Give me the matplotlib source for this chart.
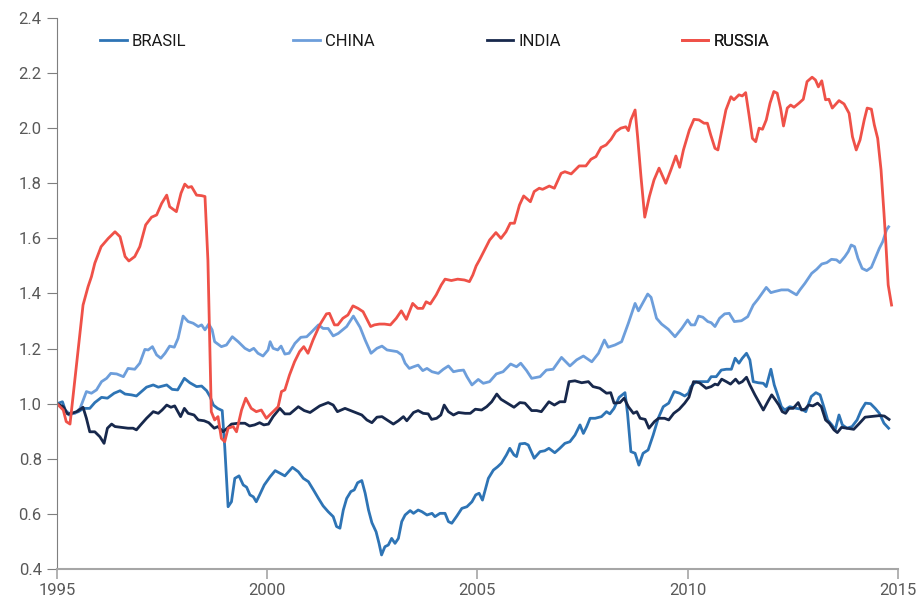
import matplotlib
matplotlib.use("Agg")
import matplotlib.pyplot as plt

# values (decimal year, index level, 1995 = 1.0)
brasil_t = [1995.0, 1995.13, 1995.21, 1995.29, 1995.39, 1995.51, 1995.63, 1995.78, 1995.90,
            1996.06, 1996.20, 1996.36, 1996.50, 1996.62, 1996.77, 1996.89, 1997.01, 1997.13,
            1997.29, 1997.41, 1997.61, 1997.74, 1997.87, 1998.03, 1998.16, 1998.32, 1998.44,
            1998.56, 1998.64, 1998.72, 1998.82, 1998.93, 1998.99, 1999.07, 1999.15, 1999.23,
            1999.33, 1999.43, 1999.51, 1999.59, 1999.67, 1999.74, 1999.82, 1999.93, 2000.07,
            2000.19, 2000.31, 2000.42, 2000.60, 2000.74, 2000.86, 2000.98, 2001.10, 2001.22,
            2001.33, 2001.45, 2001.57, 2001.65, 2001.73, 2001.81, 2001.89, 2001.99, 2002.07,
            2002.15, 2002.25, 2002.33, 2002.41, 2002.49, 2002.59, 2002.66, 2002.72, 2002.80,
            2002.88, 2002.96, 2003.04, 2003.12, 2003.20, 2003.28, 2003.40, 2003.48, 2003.59,
            2003.68, 2003.80, 2003.92, 2003.99, 2004.11, 2004.23, 2004.31, 2004.39, 2004.51,
            2004.63, 2004.75, 2004.87, 2004.96, 2005.04, 2005.12, 2005.26, 2005.38, 2005.48,
            2005.57, 2005.69, 2005.77, 2005.87, 2005.93, 2006.01, 2006.13, 2006.21, 2006.35,
            2006.49, 2006.60, 2006.70, 2006.84, 2006.96, 2007.08, 2007.20, 2007.32, 2007.44,
            2007.52, 2007.60, 2007.68, 2007.80, 2007.95, 2008.07, 2008.15, 2008.25, 2008.37,
            2008.51, 2008.57, 2008.65, 2008.75, 2008.84, 2008.94, 2009.06, 2009.18, 2009.30,
            2009.42, 2009.55, 2009.68, 2009.81, 2009.93, 2010.02, 2010.08, 2010.20, 2010.36,
            2010.48, 2010.56, 2010.68, 2010.80, 2010.92, 2011.04, 2011.13, 2011.22, 2011.30,
            2011.40, 2011.48, 2011.56, 2011.68, 2011.80, 2011.87, 2011.98, 2012.06, 2012.14,
            2012.23, 2012.31, 2012.43, 2012.59, 2012.71, 2012.81, 2012.94, 2013.05, 2013.15,
            2013.25, 2013.33, 2013.43, 2013.51, 2013.60, 2013.68, 2013.79, 2013.91, 2014.03,
            2014.13, 2014.23, 2014.35, 2014.46, 2014.56, 2014.67, 2014.78]
brasil_v = [1.0, 1.007, 0.971, 0.959, 0.965, 0.971, 0.983, 0.983, 1.004,
            1.023, 1.02, 1.038, 1.047, 1.035, 1.032, 1.028, 1.044, 1.06,
            1.068, 1.06, 1.068, 1.052, 1.05, 1.092, 1.076, 1.062, 1.064,
            1.047, 1.026, 0.995, 0.983, 0.975, 0.844, 0.626, 0.644, 0.729,
            0.738, 0.705, 0.697, 0.669, 0.662, 0.644, 0.669, 0.705, 0.735,
            0.757, 0.747, 0.738, 0.769, 0.753, 0.729, 0.717, 0.687, 0.656,
            0.629, 0.608, 0.590, 0.554, 0.548, 0.614, 0.656, 0.681, 0.687,
            0.713, 0.721, 0.675, 0.614, 0.568, 0.535, 0.493, 0.451, 0.481,
            0.487, 0.511, 0.493, 0.511, 0.572, 0.596, 0.612, 0.602, 0.614,
            0.608, 0.596, 0.602, 0.590, 0.602, 0.602, 0.572, 0.566, 0.592,
            0.62, 0.626, 0.644, 0.669, 0.675, 0.650, 0.729, 0.759, 0.771,
            0.784, 0.814, 0.838, 0.814, 0.808, 0.854, 0.856, 0.85, 0.802,
            0.826, 0.829, 0.838, 0.822, 0.838, 0.856, 0.862, 0.886, 0.923,
            0.892, 0.917, 0.947, 0.947, 0.953, 0.971, 0.963, 0.983, 1.023,
            1.04, 0.965, 0.826, 0.82, 0.777, 0.82, 0.832, 0.886, 0.947,
            0.989, 1.002, 1.044, 1.038, 1.028, 1.038, 1.062, 1.08, 1.08,
            1.08, 1.098, 1.098, 1.122, 1.125, 1.125, 1.165, 1.147, 1.165,
            1.183, 1.159, 1.08, 1.076, 1.074, 1.062, 1.125, 1.068, 1.032,
            0.989, 0.977, 0.989, 0.983, 0.980, 0.971, 1.026, 1.04, 1.032,
            0.983, 0.941, 0.923, 0.905, 0.959, 0.923, 0.911, 0.917, 0.941,
            0.977, 1.002, 1.0, 0.983, 0.965, 0.929, 0.911]

china_t = [1995.0, 1995.19, 1995.31, 1995.43, 1995.55, 1995.70, 1995.82, 1995.94, 1996.06,
           1996.18, 1996.28, 1996.42, 1996.58, 1996.69, 1996.85, 1996.97, 1997.09, 1997.17,
           1997.27, 1997.37, 1997.47, 1997.57, 1997.68, 1997.79, 1997.88, 1998.00, 1998.12,
           1998.24, 1998.36, 1998.44, 1998.52, 1998.61, 1998.69, 1998.75, 1998.91, 1999.03,
           1999.17, 1999.31, 1999.47, 1999.58, 1999.68, 1999.78, 1999.90, 2000.02, 2000.07,
           2000.14, 2000.25, 2000.33, 2000.42, 2000.52, 2000.66, 2000.80, 2000.94, 2001.06,
           2001.22, 2001.33, 2001.45, 2001.57, 2001.69, 2001.89, 2002.05, 2002.21, 2002.33,
           2002.47, 2002.61, 2002.73, 2002.85, 2002.97, 2003.09, 2003.20, 2003.28, 2003.38,
           2003.48, 2003.59, 2003.70, 2003.80, 2003.92, 2004.07, 2004.19, 2004.31, 2004.43,
           2004.55, 2004.67, 2004.75, 2004.87, 2005.02, 2005.14, 2005.29, 2005.45, 2005.61,
           2005.79, 2005.93, 2006.03, 2006.17, 2006.29, 2006.49, 2006.64, 2006.80, 2007.00,
           2007.20, 2007.36, 2007.52, 2007.72, 2007.88, 2008.02, 2008.11, 2008.27, 2008.43,
           2008.59, 2008.75, 2008.83, 2008.95, 2009.05, 2009.13, 2009.26, 2009.38, 2009.54,
           2009.70, 2009.86, 2010.00, 2010.08, 2010.17, 2010.26, 2010.36, 2010.48, 2010.56,
           2010.65, 2010.76, 2010.88, 2010.99, 2011.11, 2011.28, 2011.43, 2011.56, 2011.67,
           2011.87, 2011.98, 2012.07, 2012.23, 2012.39, 2012.59, 2012.67, 2012.79, 2012.95,
           2013.07, 2013.19, 2013.31, 2013.42, 2013.54, 2013.62, 2013.74, 2013.82, 2013.89,
           2013.97, 2014.05, 2014.15, 2014.26, 2014.37, 2014.46, 2014.56, 2014.64, 2014.73,
           2014.78]
china_v = [1.0, 0.977, 0.963, 0.965, 0.983, 1.044, 1.038, 1.05, 1.08,
           1.092, 1.11, 1.108, 1.098, 1.128, 1.125, 1.147, 1.197, 1.195,
           1.207, 1.177, 1.165, 1.183, 1.209, 1.205, 1.237, 1.318, 1.298,
           1.292, 1.28, 1.286, 1.268, 1.289, 1.268, 1.225, 1.207, 1.213,
           1.243, 1.225, 1.201, 1.192, 1.201, 1.183, 1.173, 1.195, 1.225,
           1.201, 1.195, 1.209, 1.18, 1.183, 1.219, 1.241, 1.243, 1.261,
           1.286, 1.273, 1.273, 1.246, 1.255, 1.28, 1.318, 1.277, 1.231,
           1.183, 1.201, 1.209, 1.195, 1.192, 1.189, 1.177, 1.147, 1.128,
           1.134, 1.14, 1.12, 1.128, 1.116, 1.11, 1.125, 1.137, 1.116,
           1.12, 1.122, 1.098, 1.068, 1.088, 1.074, 1.08, 1.108, 1.116,
           1.144, 1.134, 1.147, 1.12, 1.092, 1.098, 1.122, 1.125, 1.168,
           1.137, 1.159, 1.173, 1.152, 1.183, 1.231, 1.205, 1.213, 1.225,
           1.292, 1.364, 1.337, 1.370, 1.398, 1.386, 1.31, 1.289, 1.270,
           1.243, 1.273, 1.304, 1.286, 1.286, 1.318, 1.314, 1.298, 1.294,
           1.28, 1.31, 1.326, 1.328, 1.298, 1.301, 1.316, 1.358, 1.379,
           1.422, 1.403, 1.407, 1.413, 1.413, 1.395, 1.413, 1.437, 1.473,
           1.488, 1.507, 1.512, 1.524, 1.522, 1.512, 1.534, 1.552, 1.576,
           1.570, 1.528, 1.491, 1.483, 1.495, 1.528, 1.564, 1.588, 1.631,
           1.642]

india_t = [1995.0, 1995.15, 1995.25, 1995.35, 1995.47, 1995.62, 1995.70, 1995.78, 1995.90,
           1996.02, 1996.12, 1996.20, 1996.30, 1996.38, 1996.54, 1996.69, 1996.81, 1996.89,
           1996.99, 1997.13, 1997.29, 1997.41, 1997.50, 1997.61, 1997.71, 1997.80, 1997.94,
           1998.03, 1998.12, 1998.26, 1998.36, 1998.50, 1998.61, 1998.74, 1998.83, 1998.95,
           1999.05, 1999.15, 1999.31, 1999.47, 1999.58, 1999.70, 1999.82, 1999.92, 2000.03,
           2000.14, 2000.30, 2000.42, 2000.54, 2000.74, 2000.88, 2001.02, 2001.25, 2001.45,
           2001.57, 2001.67, 2001.85, 2002.05, 2002.25, 2002.37, 2002.49, 2002.61, 2002.73,
           2002.85, 2003.00, 2003.12, 2003.24, 2003.32, 2003.48, 2003.59, 2003.71, 2003.83,
           2003.91, 2004.03, 2004.13, 2004.21, 2004.31, 2004.43, 2004.55, 2004.71, 2004.83,
           2004.95, 2005.10, 2005.22, 2005.34, 2005.46, 2005.56, 2005.69, 2005.87, 2006.01,
           2006.13, 2006.29, 2006.41, 2006.52, 2006.70, 2006.83, 2006.96, 2007.08, 2007.18,
           2007.32, 2007.48, 2007.64, 2007.75, 2007.91, 2008.07, 2008.17, 2008.25, 2008.39,
           2008.49, 2008.59, 2008.71, 2008.79, 2008.87, 2008.99, 2009.08, 2009.21, 2009.31,
           2009.45, 2009.55, 2009.67, 2009.80, 2009.93, 2010.03, 2010.14, 2010.28, 2010.44,
           2010.56, 2010.65, 2010.72, 2010.81, 2010.92, 2011.02, 2011.14, 2011.22, 2011.30,
           2011.40, 2011.48, 2011.60, 2011.69, 2011.80, 2011.92, 2012.00, 2012.09, 2012.17,
           2012.25, 2012.33, 2012.41, 2012.51, 2012.63, 2012.71, 2012.79, 2012.88, 2012.98,
           2013.09, 2013.18, 2013.28, 2013.37, 2013.48, 2013.56, 2013.66, 2013.79, 2013.95,
           2014.07, 2014.22, 2014.35, 2014.46, 2014.58, 2014.68, 2014.79]
india_v = [1.0, 0.989, 0.963, 0.965, 0.971, 0.987, 0.947, 0.898, 0.898,
           0.880, 0.856, 0.911, 0.926, 0.917, 0.914, 0.911, 0.911, 0.905,
           0.923, 0.947, 0.971, 0.965, 0.977, 0.995, 0.987, 0.992, 0.953,
           0.983, 0.965, 0.959, 0.941, 0.938, 0.931, 0.911, 0.917, 0.898,
           0.911, 0.926, 0.929, 0.929, 0.919, 0.923, 0.931, 0.923, 0.926,
           0.953, 0.983, 0.963, 0.963, 0.989, 0.975, 0.968, 0.992, 1.004,
           0.995, 0.971, 0.983, 0.971, 0.959, 0.941, 0.931, 0.951, 0.953,
           0.941, 0.926, 0.938, 0.953, 0.938, 0.968, 0.975, 0.965, 0.963,
           0.943, 0.947, 0.959, 0.995, 0.971, 0.959, 0.968, 0.965, 0.965,
           0.980, 0.977, 0.989, 1.007, 1.035, 1.016, 1.004, 0.987, 1.004,
           1.002, 0.975, 0.975, 0.971, 1.007, 0.995, 1.007, 1.007, 1.08,
           1.083, 1.076, 1.08, 1.062, 1.056, 1.038, 1.04, 1.002, 1.004,
           1.02, 0.989, 0.965, 0.971, 0.947, 0.943, 0.911, 0.935, 0.947,
           0.947, 0.941, 0.965, 0.980, 1.002, 1.023, 1.08, 1.076, 1.056,
           1.062, 1.071, 1.068, 1.089, 1.08, 1.071, 1.089, 1.074, 1.08,
           1.096, 1.068, 1.032, 1.007, 0.977, 1.011, 1.032, 1.013, 0.995,
           0.971, 0.965, 0.983, 0.983, 1.004, 0.977, 0.980, 0.995, 0.992,
           1.002, 0.989, 0.941, 0.929, 0.905, 0.895, 0.914, 0.911, 0.907,
           0.926, 0.951, 0.953, 0.955, 0.957, 0.955, 0.943]

russia_t = [1995.0, 1995.15, 1995.22, 1995.31, 1995.62, 1995.74, 1995.82, 1995.90, 1996.05,
            1996.22, 1996.38, 1996.50, 1996.62, 1996.71, 1996.85, 1996.97, 1997.11, 1997.25,
            1997.37, 1997.49, 1997.61, 1997.68, 1997.84, 1997.95, 1998.04, 1998.12, 1998.20,
            1998.32, 1998.44, 1998.52, 1998.59, 1998.67, 1998.75, 1998.83, 1998.91, 1998.99,
            1999.07, 1999.19, 1999.27, 1999.39, 1999.49, 1999.62, 1999.74, 1999.86, 1999.98,
            2000.14, 2000.26, 2000.34, 2000.42, 2000.53, 2000.65, 2000.77, 2000.87, 2000.97,
            2001.09, 2001.25, 2001.41, 2001.48, 2001.60, 2001.68, 2001.80, 2001.92, 2002.04,
            2002.16, 2002.28, 2002.36, 2002.46, 2002.55, 2002.67, 2002.79, 2002.93, 2003.07,
            2003.19, 2003.31, 2003.46, 2003.58, 2003.70, 2003.78, 2003.88, 2004.02, 2004.14,
            2004.23, 2004.38, 2004.53, 2004.69, 2004.81, 2004.89, 2004.97, 2005.05, 2005.17,
            2005.29, 2005.44, 2005.56, 2005.68, 2005.78, 2005.88, 2006.00, 2006.10, 2006.26,
            2006.35, 2006.47, 2006.55, 2006.71, 2006.83, 2006.99, 2007.08, 2007.23, 2007.42,
            2007.58, 2007.70, 2007.82, 2007.94, 2008.06, 2008.18, 2008.29, 2008.41, 2008.53,
            2008.59, 2008.65, 2008.75, 2008.81, 2008.89, 2008.98, 2009.09, 2009.20, 2009.32,
            2009.48, 2009.60, 2009.72, 2009.81, 2009.90, 2010.04, 2010.15, 2010.27, 2010.39,
            2010.47, 2010.55, 2010.65, 2010.72, 2010.83, 2010.91, 2011.03, 2011.10, 2011.22,
            2011.30, 2011.38, 2011.46, 2011.54, 2011.62, 2011.70, 2011.78, 2011.87, 2011.96,
            2012.05, 2012.13, 2012.21, 2012.28, 2012.37, 2012.45, 2012.53, 2012.65, 2012.75,
            2012.84, 2012.96, 2013.04, 2013.11, 2013.19, 2013.28, 2013.36, 2013.44, 2013.60,
            2013.72, 2013.84, 2013.92, 2014.01, 2014.10, 2014.20, 2014.27, 2014.37, 2014.44,
            2014.52, 2014.60, 2014.67, 2014.71, 2014.77, 2014.85]
russia_v = [1.0, 0.977, 0.935, 0.926, 1.358, 1.425, 1.461, 1.51, 1.57,
            1.60, 1.624, 1.606, 1.534, 1.518, 1.534, 1.57, 1.649, 1.677,
            1.685, 1.727, 1.757, 1.715, 1.697, 1.764, 1.797, 1.785, 1.788,
            1.757, 1.755, 1.752, 1.52, 0.971, 0.941, 0.953, 0.874, 0.862,
            0.911, 0.917, 0.898, 0.977, 1.02, 0.983, 0.971, 0.977, 0.947,
            0.971, 0.989, 1.044, 1.05, 1.104, 1.152, 1.189, 1.207, 1.183,
            1.231, 1.286, 1.326, 1.328, 1.286, 1.286, 1.310, 1.322, 1.355,
            1.346, 1.334, 1.310, 1.280, 1.286, 1.289, 1.289, 1.286, 1.310,
            1.337, 1.306, 1.364, 1.346, 1.346, 1.370, 1.362, 1.395, 1.431,
            1.452, 1.447, 1.452, 1.449, 1.443, 1.467, 1.50, 1.522, 1.558,
            1.594, 1.621, 1.600, 1.624, 1.655, 1.655, 1.721, 1.754, 1.733,
            1.770, 1.782, 1.778, 1.790, 1.782, 1.836, 1.842, 1.834, 1.863,
            1.863, 1.887, 1.897, 1.930, 1.939, 1.960, 1.987, 2.0, 2.005,
            1.991, 2.03, 2.066, 1.969, 1.824, 1.677, 1.752, 1.812, 1.855,
            1.80, 1.848, 1.899, 1.858, 1.921, 1.993, 2.032, 2.03, 2.018,
            2.018, 1.975, 1.927, 1.921, 2.005, 2.066, 2.114, 2.103, 2.121,
            2.117, 2.129, 2.048, 1.963, 1.951, 2.0, 1.996, 2.03, 2.091,
            2.133, 2.127, 2.073, 2.008, 2.073, 2.084, 2.076, 2.091, 2.105,
            2.169, 2.185, 2.175, 2.15, 2.172, 2.103, 2.105, 2.073, 2.10,
            2.088, 2.054, 1.969, 1.921, 1.957, 2.03, 2.073, 2.069, 2.012,
            1.963, 1.848, 1.691, 1.594, 1.431, 1.358]

series = [
    ("BRASIL", brasil_t, brasil_v, "#2E74B5"),
    ("CHINA", china_t, china_v, "#6D9EDB"),
    ("INDIA", india_t, india_v, "#17284C"),
    ("RUSSIA", russia_t, russia_v, "#EF5148"),
]

plt.rcParams['font.family'] = ['Roboto', 'DejaVu Sans']

fig = plt.figure(figsize=(9.16, 6.03), dpi=100)
ax = fig.add_axes([0.0622, 0.0564, 0.918, 0.9138])

lines = []
for name, t, v, color in series:
    ln, = ax.plot(t, v, color=color, lw=2.0, label=name, solid_joinstyle='round')
    lines.append(ln)

ax.set_xlim(1995, 2015)
ax.set_ylim(0.4, 2.4)
ax.set_xticks([1995, 2000, 2005, 2010, 2015])
ax.set_yticks([0.4, 0.6, 0.8, 1.0, 1.2, 1.4, 1.6, 1.8, 2.0, 2.2, 2.4])
ax.yaxis.set_major_formatter(matplotlib.ticker.FormatStrFormatter('%.1f'))

for side in ['top', 'right']:
    ax.spines[side].set_visible(False)
ax.spines['left'].set_color('#7F7F7F')
ax.spines['left'].set_linewidth(0.8)
ax.spines['bottom'].set_color('#A6A6A6')
ax.spines['bottom'].set_linewidth(1.5)
ax.tick_params(axis='y', length=7, width=0.8, color='#7F7F7F', labelsize=12,
               labelcolor='#595959', pad=4)
ax.tick_params(axis='x', length=7, width=1.2, color='#A6A6A6', labelsize=12,
               labelcolor='#595959', pad=3)

# one legend per series so the entries sit evenly spaced across the top
anchors = [0.051, 0.281, 0.511, 0.743]
for ln, xa in zip(lines, anchors):
    leg = ax.legend(handles=[ln], loc='center left', bbox_to_anchor=(xa, 0.958),
                    frameon=False, fontsize=12, handlelength=1.6, handletextpad=0.3,
                    borderaxespad=0, borderpad=0)
    for txt in leg.get_texts():
        txt.set_color('#1A1A1A')
    ax.add_artist(leg)

fig.savefig("out.png", dpi=100)
